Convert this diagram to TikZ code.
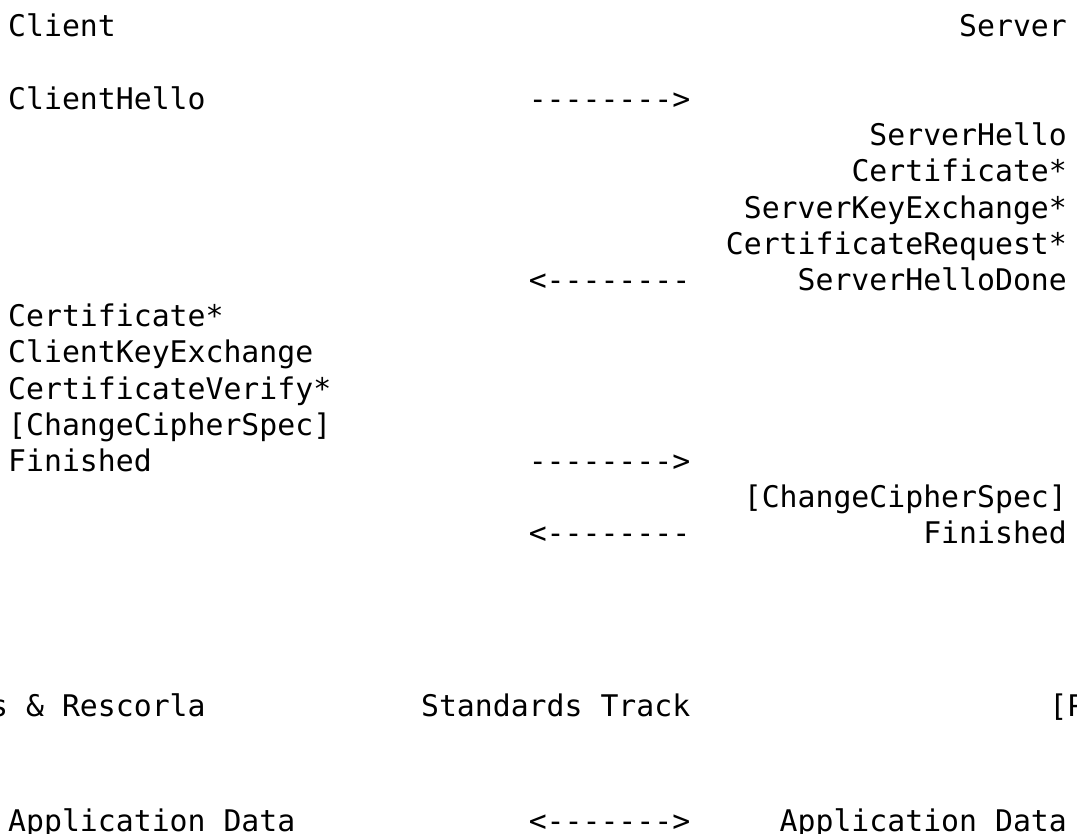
\documentclass[tikz,border=0pt]{standalone}
\usepackage{fontspec}
\setmonofont{DejaVu Sans Mono}
\usepackage{tikz}

\tikzset{msg/.style={font=\ttfamily\fontsize{29.81bp}{36bp}\selectfont, inner sep=0pt, anchor=base west},
  rmsg/.style={msg, anchor=base east}}

\begin{document}
\begin{tikzpicture}[x=17.95bp,y=-36.2bp]
\useasboundingbox (-0.4457,-1.022) rectangle (59.554,21.989);
\node[msg] (client) at (0,0) {Client}; \node[rmsg] (server) at (59,0) {Server};
\node[msg] (chello) at (0,2) {ClientHello}; \node[msg] (arr1) at (29,2) {-------->};
\node[rmsg] (shello) at (59,3) {ServerHello}; \node[rmsg] (scert) at (59,4) {Certificate*}; \node[rmsg] (skex) at (59,5) {ServerKeyExchange*};
\node[rmsg] (creq) at (59,6) {CertificateRequest*}; \node[msg] (arr2) at (29,7) {<--------}; \node[rmsg] (sdone) at (59,7) {ServerHelloDone};
\node[msg] (ccert) at (0,8) {Certificate*}; \node[msg] (ckex) at (0,9) {ClientKeyExchange}; \node[msg] (cver) at (0,10) {CertificateVerify*};
\node[msg] (cccs) at (0,11) {[ChangeCipherSpec]}; \node[msg] (cfin) at (0,12) {Finished}; \node[msg] (arr3) at (29,12) {-------->};
\node[rmsg] (sccs) at (59,13) {[ChangeCipherSpec]}; \node[msg] (arr4) at (29,14) {<--------}; \node[rmsg] (sfin) at (59,14) {Finished};

\node[msg] (authors) at (-1,18.78) {s \& Rescorla}; \node[msg] (track) at (23,18.78) {Standards Track}; \node[msg] (page) at (58,18.78) {[P};

\node[msg] (capp) at (0,21.95) {Application Data}; \node[msg] (arr5) at (29,21.95) {<------->}; \node[rmsg] (sapp) at (59,21.95) {Application Data};

\end{tikzpicture}
\end{document}
